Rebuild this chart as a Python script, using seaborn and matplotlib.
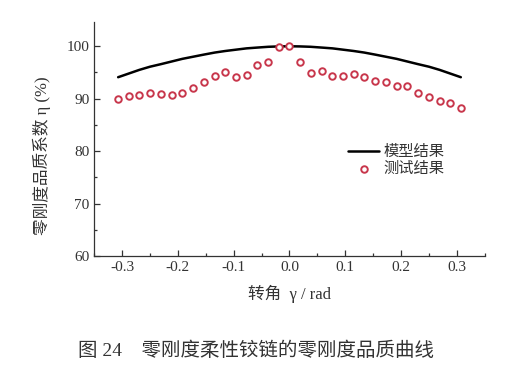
import matplotlib
matplotlib.use('Agg')
import matplotlib.pyplot as plt
import numpy as np
import pandas as pd
import seaborn as sns
from matplotlib.ticker import MultipleLocator

# rotation angle (rad), 33 test positions
angle = [-0.307, -0.288, -0.269, -0.250, -0.230, -0.211, -0.192, -0.173, -0.154,
         -0.134, -0.115, -0.096, -0.077, -0.058, -0.038, -0.019, 0.0,
         0.019, 0.038, 0.058, 0.077, 0.096, 0.115, 0.134, 0.154,
         0.173, 0.192, 0.211, 0.230, 0.250, 0.269, 0.288, 0.307]

# measured zero stiffness quality (%)
test_eta = [89.9, 90.5, 90.7, 91.0, 90.9, 90.7, 91.0, 92.1, 93.2,
            94.4, 95.1, 94.2, 94.6, 96.5, 97.0, 99.8, 100.0,
            97.0, 94.9, 95.3, 94.4, 94.3, 94.7, 94.2, 93.3,
            93.2, 92.5, 92.4, 91.1, 90.4, 89.6, 89.1, 88.3]

# model curve (%)
model_eta = [94.1, 94.8, 95.5, 96.1, 96.6, 97.1, 97.6, 98.0, 98.4,
             98.8, 99.1, 99.35, 99.6, 99.75, 99.9, 99.97, 100.0,
             99.97, 99.9, 99.75, 99.6, 99.35, 99.1, 98.8, 98.4,
             98.0, 97.6, 97.1, 96.6, 96.1, 95.5, 94.8, 94.1]

df = pd.DataFrame({'angle': angle, 'test': test_eta, 'model': model_eta})

sns.set_style('ticks')
fonts = ['Liberation Serif', 'Noto Sans CJK SC']
plt.rcParams['font.family'] = fonts

fig = plt.figure(figsize=(5.23, 3.69), dpi=100)
ax = fig.add_axes([0.180, 0.306, 0.747, 0.634])

sns.lineplot(data=df, x='angle', y='model', ax=ax, color='black', lw=1.8,
             label='模型结果')
sns.scatterplot(data=df, x='angle', y='test', ax=ax, marker='o', s=22,
                facecolors='white', edgecolor='#c8374c', linewidth=1.4,
                label='测试结果', zorder=3)

ax.set_xlim(-0.35, 0.35)
ax.set_ylim(60, 104.6)
ax.xaxis.set_major_locator(MultipleLocator(0.1))
ax.xaxis.set_minor_locator(MultipleLocator(0.05))
ax.yaxis.set_major_locator(MultipleLocator(10))
ax.yaxis.set_minor_locator(MultipleLocator(5))
ax.set_xticks([-0.3, -0.2, -0.1, 0.0, 0.1, 0.2, 0.3])
ax.set_xticklabels(['-0.3', '-0.2', '-0.1', '0.0', '0.1', '0.2', '0.3'])
ax.tick_params(which='both', direction='in', labelsize=11, colors='#333333')
ax.tick_params(which='major', length=4, width=0.9)
ax.tick_params(which='minor', length=2.5, width=0.9)
for s in ['top', 'right']:
    ax.spines[s].set_visible(False)
for s in ['left', 'bottom']:
    ax.spines[s].set_color('#333333')
    ax.spines[s].set_linewidth(0.9)

ax.set_xlabel('转角  γ / rad', fontsize=12, color='#333333', labelpad=8)
ax.set_ylabel('零刚度品质系数 η (%)', fontsize=12, color='#333333')
ax.yaxis.set_label_coords(-0.11, 0.43)

leg = ax.legend(loc='upper left', bbox_to_anchor=(0.635, 0.50), frameon=False,
                fontsize=11, handlelength=2.0, handletextpad=0.3,
                labelspacing=0.15, borderaxespad=0)
for t in leg.get_texts():
    t.set_color('#333333')

fig.text(0.49, 0.05, '图 24    零刚度柔性铰链的零刚度品质曲线', ha='center',
         va='center', fontsize=14, color='#333333', family=fonts)

fig.savefig('out.png', dpi=100)
